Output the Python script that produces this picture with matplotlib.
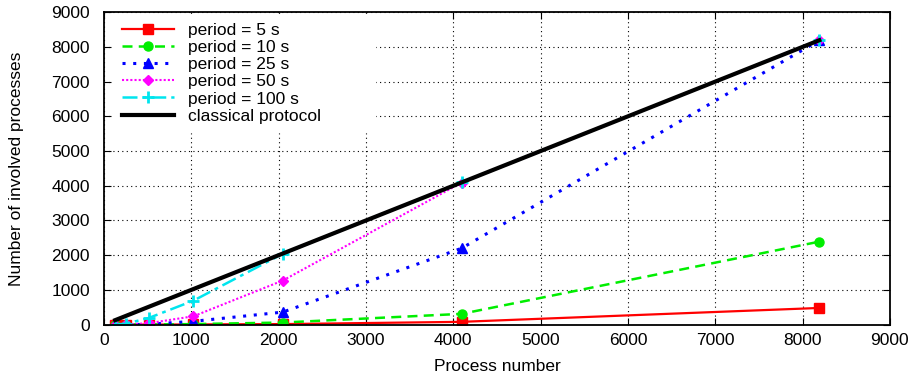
import matplotlib
matplotlib.use("Agg")
import matplotlib.pyplot as plt

plt.rcParams['font.family'] = ['Liberation Sans', 'DejaVu Sans']

procs = [128, 256, 512, 1024, 2048, 4096, 8192]
period_5 = [0, 0, 0, 5, 15, 80, 480]
period_10 = [0, 0, 2, 15, 60, 310, 2390]
period_25 = [0, 1, 10, 95, 360, 2200, 8190]
period_50 = [0, 5, 40, 240, 1270, 4090, 8192]
period_100 = [0, 30, 190, 690, 2040, 4096, 8192]
classical = procs

fig = plt.figure(figsize=(9.16, 3.81), dpi=100)
ax = fig.add_axes([0.1135, 0.148, 0.858, 0.82])

ax.plot(procs, period_5, color='#ff0000', ls='-', lw=1.6, marker='s', ms=7, label='period = 5 s')
ax.plot(procs, period_10, color='#00ee00', ls=(0, (4, 2.5)), lw=1.8, marker='o', ms=6.5, label='period = 10 s')
ax.plot(procs, period_25, color='#0000ff', ls=(0, (1, 2.5)), lw=2.2, marker='^', ms=6.5, label='period = 25 s')
ax.plot(procs, period_50, color='#ff00ff', ls=(0, (1, 1)), lw=1.5, marker='D', ms=5, label='period = 50 s')
ax.plot(procs, period_100, color='#00e5ee', ls=(0, (6, 2, 1.5, 2)), lw=1.8, marker='+', ms=8, mew=2, label='period = 100 s')
ax.plot(procs, classical, color='black', ls='-', lw=3, label='classical protocol')

ax.set_xlim(0, 9000)
ax.set_ylim(0, 9000)
ax.set_xticks(range(0, 9001, 1000))
ax.set_yticks(range(0, 9001, 1000))
ax.grid(True, color='black', ls=(0, (1, 3)), lw=0.8)
ax.tick_params(direction='in', top=True, right=True, length=5, labelsize=12.5)
ax.tick_params(axis='y', pad=10)
ax.tick_params(axis='x', pad=6)
for s in ax.spines.values():
    s.set_linewidth(1.3)

ax.set_xlabel('Process number', fontsize=12.5, labelpad=8)
ax.set_ylabel('Number of involved processes', fontsize=12.5, labelpad=20)

# opaque key box like gnuplot, wider than its text
leg = ax.legend(loc='upper left', bbox_to_anchor=(0.012, 0.995, 0.333, 0), mode='expand',
                fontsize=12.5, frameon=True, fancybox=False,
                edgecolor='white', framealpha=1, handlelength=3.0, handletextpad=0.8,
                labelspacing=0.12, borderaxespad=0.0, borderpad=0.5)

fig.savefig('out.png')
